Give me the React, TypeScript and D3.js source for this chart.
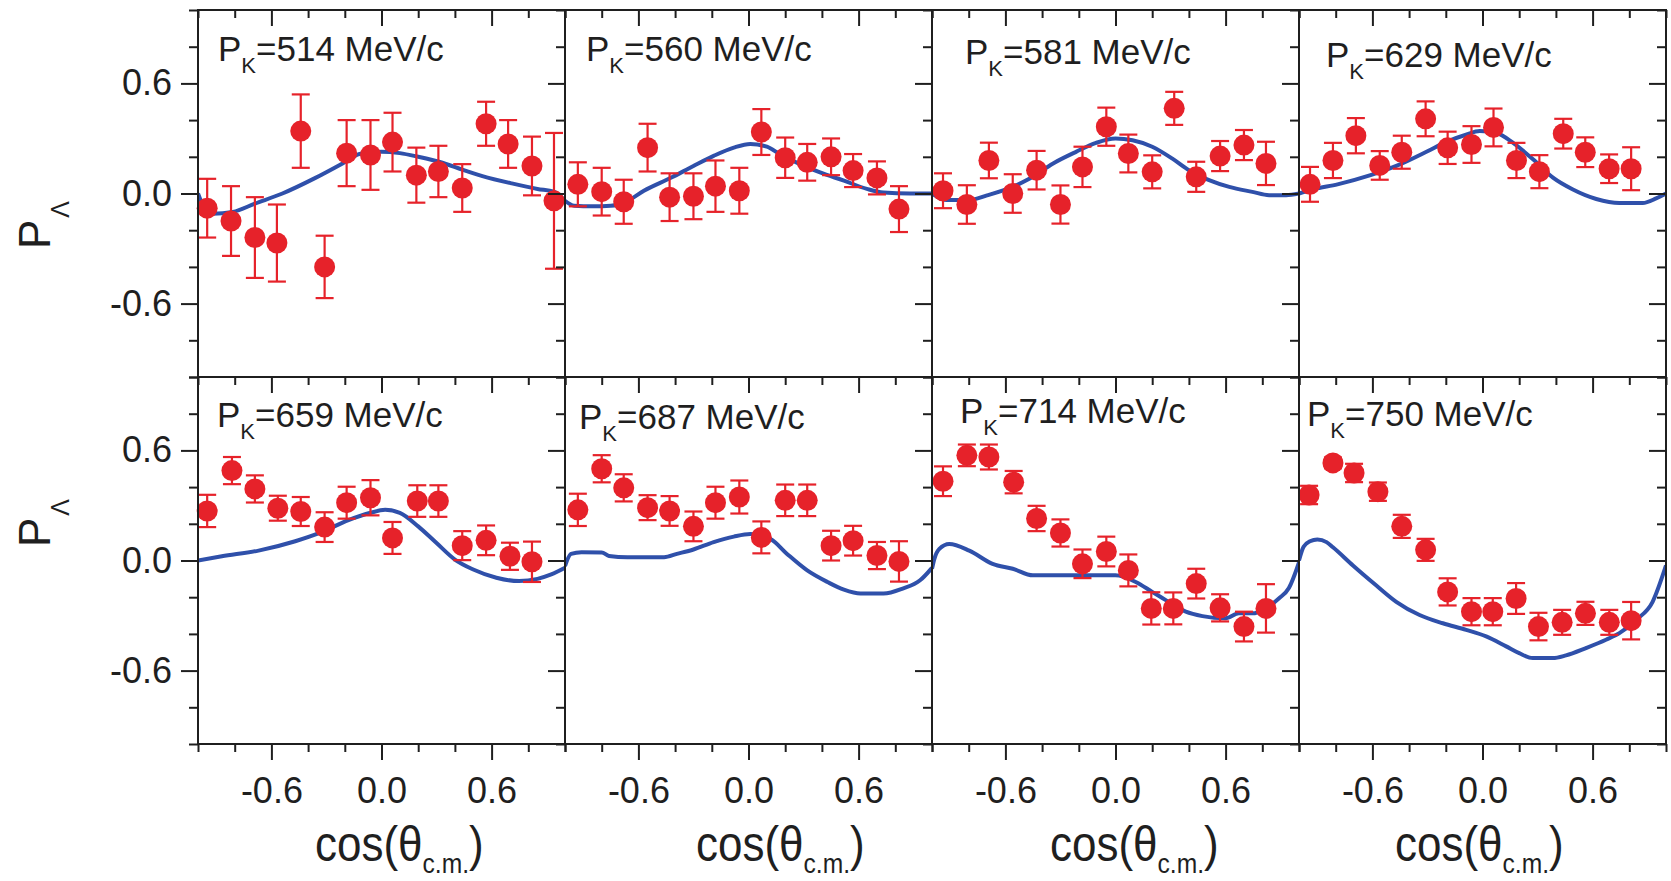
import React, { useEffect, useRef } from 'react';
import * as d3 from 'd3';

// kaon beam momenta (MeV/c), one panel each
const momenta = [514, 560, 581, 629, 659, 687, 714, 750];

// axis ticks
const majorTicks = [-0.6, 0, 0.6];
const minorTicks = [-1, -0.8, -0.4, -0.2, 0.2, 0.4, 0.8, 1];

// measured points: [cos(theta_cm), P_Lambda, error]
const data514 = [
  [-0.95, -0.08, 0.16], [-0.82, -0.15, 0.19], [-0.69, -0.24, 0.22], [-0.57, -0.27, 0.21],
  [-0.44, 0.34, 0.2], [-0.31, -0.4, 0.17], [-0.19, 0.22, 0.18], [-0.06, 0.21, 0.19],
  [0.06, 0.28, 0.16], [0.19, 0.1, 0.15], [0.31, 0.12, 0.14], [0.44, 0.03, 0.13],
  [0.57, 0.38, 0.12], [0.69, 0.27, 0.13], [0.82, 0.15, 0.16], [0.94, -0.04, 0.37],
];
const data560 = [
  [-0.93, 0.05, 0.12], [-0.8, 0.01, 0.13], [-0.68, -0.045, 0.12], [-0.55, 0.25, 0.13],
  [-0.43, -0.02, 0.13], [-0.3, -0.015, 0.125], [-0.18, 0.04, 0.14], [-0.05, 0.015, 0.125],
  [0.07, 0.335, 0.125], [0.2, 0.195, 0.11], [0.32, 0.17, 0.1], [0.45, 0.2, 0.1],
  [0.57, 0.125, 0.09], [0.7, 0.085, 0.09], [0.82, -0.085, 0.125],
];
const data581 = [
  [-0.94, 0.015, 0.095], [-0.81, -0.06, 0.105], [-0.69, 0.18, 0.097], [-0.56, 0.0, 0.105],
  [-0.43, 0.127, 0.105], [-0.3, -0.06, 0.104], [-0.18, 0.145, 0.11], [-0.05, 0.364, 0.104],
  [0.07, 0.218, 0.103], [0.2, 0.118, 0.09], [0.32, 0.464, 0.09], [0.44, 0.091, 0.082],
  [0.57, 0.204, 0.082], [0.7, 0.264, 0.082], [0.82, 0.164, 0.118],
];
const data629 = [
  [-0.94, 0.05, 0.095], [-0.815, 0.18, 0.096], [-0.69, 0.315, 0.096], [-0.56, 0.153, 0.078],
  [-0.44, 0.225, 0.09], [-0.31, 0.407, 0.095], [-0.19, 0.249, 0.088], [-0.06, 0.267, 0.1],
  [0.06, 0.36, 0.103], [0.185, 0.18, 0.096], [0.31, 0.119, 0.09], [0.44, 0.326, 0.081],
  [0.56, 0.225, 0.081], [0.69, 0.135, 0.078], [0.81, 0.135, 0.117],
];
const data659 = [
  [-0.95, 0.27, 0.088], [-0.815, 0.49, 0.074], [-0.69, 0.39, 0.074], [-0.565, 0.285, 0.068],
  [-0.44, 0.267, 0.079], [-0.31, 0.182, 0.081], [-0.19, 0.315, 0.087], [-0.06, 0.342, 0.096],
  [0.06, 0.123, 0.087], [0.195, 0.324, 0.086], [0.31, 0.324, 0.086], [0.44, 0.081, 0.079],
  [0.57, 0.11, 0.081], [0.7, 0.023, 0.074], [0.82, -0.007, 0.11],
];
const data687 = [
  [-0.93, 0.276, 0.088], [-0.8, 0.5, 0.074], [-0.68, 0.396, 0.074], [-0.55, 0.288, 0.068],
  [-0.43, 0.27, 0.081], [-0.3, 0.186, 0.081], [-0.18, 0.315, 0.087], [-0.05, 0.346, 0.09],
  [0.07, 0.126, 0.087], [0.2, 0.328, 0.086], [0.32, 0.328, 0.086], [0.45, 0.081, 0.081],
  [0.57, 0.108, 0.081], [0.7, 0.027, 0.074], [0.82, -0.005, 0.11],
];
const data714 = [
  [-0.94, 0.432, 0.081], [-0.81, 0.573, 0.059], [-0.69, 0.564, 0.068], [-0.555, 0.427, 0.061],
  [-0.43, 0.229, 0.069], [-0.3, 0.15, 0.074], [-0.18, -0.018, 0.078], [-0.05, 0.049, 0.081],
  [0.07, -0.054, 0.087], [0.195, -0.261, 0.088], [0.315, -0.261, 0.087], [0.44, -0.126, 0.081],
  [0.57, -0.258, 0.074], [0.7, -0.36, 0.081], [0.82, -0.261, 0.132],
];
const data750 = [
  [-0.945, 0.357, 0.05], [-0.815, 0.532, 0.03], [-0.7, 0.477, 0.05], [-0.57, 0.375, 0.05],
  [-0.44, 0.186, 0.063], [-0.31, 0.058, 0.06], [-0.19, -0.171, 0.074], [-0.06, -0.279, 0.074],
  [0.056, -0.279, 0.074], [0.183, -0.207, 0.084], [0.305, -0.36, 0.075], [0.434, -0.337, 0.068],
  [0.561, -0.288, 0.063], [0.691, -0.337, 0.068], [0.81, -0.328, 0.102],
];

// model curves: [cos(theta_cm), P_Lambda]
const theory514 = [
  [-1, 0.0], [-0.97, -0.07], [-0.92, -0.11], [-0.81, -0.1], [-0.69, -0.055], [-0.54, 0.0],
  [-0.36, 0.085], [-0.21, 0.165], [-0.12, 0.215], [0.0, 0.228], [0.1, 0.22], [0.2, 0.2],
  [0.34, 0.165], [0.44, 0.13], [0.55, 0.095], [0.71, 0.055], [0.85, 0.025], [0.94, 0.01], [1.0, -0.04],
];
const theory560 = [
  [-1, -0.04], [-0.95, -0.067], [-0.85, -0.07], [-0.75, -0.067], [-0.66, -0.04], [-0.57, 0.015],
  [-0.42, 0.087], [-0.3, 0.15], [-0.19, 0.205], [-0.08, 0.25], [0.01, 0.27], [0.1, 0.255],
  [0.17, 0.215], [0.28, 0.16], [0.39, 0.115], [0.52, 0.07], [0.645, 0.025], [0.735, 0.005],
  [0.88, 0.0], [1.0, 0.0],
];
const theory581 = [
  [-1, 0.0], [-0.92, -0.036], [-0.8, -0.036], [-0.7, -0.01], [-0.56, 0.036], [-0.47, 0.08],
  [-0.34, 0.164], [-0.215, 0.227], [-0.106, 0.276], [0.0, 0.3], [0.093, 0.29], [0.2, 0.255],
  [0.31, 0.19], [0.4, 0.127], [0.51, 0.073], [0.62, 0.036], [0.746, 0.009], [0.837, -0.009],
  [0.93, -0.009], [1.0, 0.0],
];
const theory629 = [
  [-1, 0.0], [-0.92, 0.023], [-0.79, 0.05], [-0.61, 0.1], [-0.47, 0.15], [-0.3, 0.23],
  [-0.2, 0.28], [-0.09, 0.32], [-0.015, 0.34], [0.076, 0.33], [0.167, 0.276], [0.275, 0.186],
  [0.384, 0.086], [0.49, 0.023], [0.62, -0.03], [0.746, -0.052], [0.873, -0.052], [0.946, -0.027], [1.0, 0.0],
];
const theory659 = [
  [-1, 0.0], [-0.87, 0.023], [-0.67, 0.054], [-0.47, 0.105], [-0.33, 0.153], [-0.18, 0.22],
  [-0.06, 0.26], [0.02, 0.276], [0.1, 0.26], [0.2, 0.186], [0.3, 0.095], [0.4, 0.005],
  [0.5, -0.049], [0.626, -0.094], [0.75, -0.112], [0.85, -0.1], [0.925, -0.076], [1.0, -0.04],
];
const theory687 = [
  [-1, -0.03], [-0.967, 0.036], [-0.91, 0.045], [-0.8, 0.044], [-0.76, 0.025], [-0.66, 0.018],
  [-0.46, 0.018], [-0.39, 0.036], [-0.3, 0.06], [-0.19, 0.1], [-0.08, 0.13], [0.01, 0.144],
  [0.12, 0.117], [0.21, 0.036], [0.32, -0.054], [0.43, -0.117], [0.52, -0.159], [0.61, -0.18],
  [0.736, -0.18], [0.84, -0.153], [0.935, -0.108], [1.0, -0.04],
];
const theory714 = [
  [-1, -0.045], [-0.987, 0.009], [-0.96, 0.063], [-0.906, 0.09], [-0.797, 0.054], [-0.67, -0.018],
  [-0.56, -0.045], [-0.45, -0.081], [-0.343, -0.081], [-0.16, -0.081], [0.0, -0.081], [0.11, -0.117],
  [0.2, -0.171], [0.274, -0.216], [0.383, -0.279], [0.474, -0.303], [0.6, -0.315], [0.673, -0.288],
  [0.746, -0.288], [0.818, -0.261], [0.89, -0.207], [0.945, -0.15], [1.0, -0.01],
];
const theory750 = [
  [-1, 0.0], [-0.975, 0.075], [-0.94, 0.105], [-0.9, 0.115], [-0.85, 0.1], [-0.815, 0.072],
  [-0.706, -0.027], [-0.58, -0.135], [-0.47, -0.225], [-0.343, -0.297], [-0.216, -0.342],
  [-0.089, -0.378], [0.02, -0.414], [0.129, -0.468], [0.2, -0.505], [0.274, -0.532], [0.383, -0.532],
  [0.455, -0.517], [0.564, -0.477], [0.673, -0.432], [0.746, -0.396], [0.837, -0.324], [0.927, -0.225],
  [1.0, -0.027],
];

const pointSets = [data514, data560, data581, data629, data659, data687, data714, data750];
const curveSets = [theory514, theory560, theory581, theory629, theory659, theory687, theory714, theory750];

// label placement inside each panel (dx from left frame, baseline from top frame)
const labelPos = [[20, 51], [21, 51], [33, 54], [27, 57], [19, 50], [14, 52], [28, 46], [8, 49]];
const titleDx = [117, 131, 118, 96];

const App = () => {
  const chartRef = useRef<SVGSVGElement>(null);

  useEffect(() => {
    if (!chartRef.current) return;
    const width = 1671;
    const height = 881;
    const marginLeft = 198;
    const marginTop = 10;
    const pw = 367;
    const ph = 367;
    const ink = '#1f1f1f';
    const red = '#e6222a';
    const blue = '#2f50aa';
    const font = "'Liberation Sans', Arial, Helvetica, sans-serif";
    const fmt = (d: any) => (+d).toFixed(1); // plain hyphen minus, like Origin

    const svg = d3.select(chartRef.current);
    svg.selectAll('*').remove();
    svg.append('rect').attr('width', width).attr('height', height).attr('fill', '#fff');

    const styleAxis = (g: any) => {
      g.select('.domain').remove();
      g.selectAll('line').attr('stroke', ink).attr('stroke-width', 2);
      g.selectAll('text').attr('fill', ink).style('font-family', font).style('font-size', '36px');
    };

    momenta.forEach((pk, i) => {
      const col = i % 4;
      const row = Math.floor(i / 4);
      const x0 = marginLeft + col * pw;
      const y0 = marginTop + row * ph;
      const x = d3.scaleLinear().domain([-1, 1]).range([x0, x0 + pw]);
      const y = d3.scaleLinear().domain([-1, 1]).range([y0 + ph, y0]);
      const g = svg.append('g');

      const clipId = `panel-clip-${i}`;
      g.append('clipPath').attr('id', clipId)
        .append('rect').attr('x', x0).attr('y', y0).attr('width', pw).attr('height', ph);

      const line = d3.line<number[]>()
        .x(d => x(d[0]))
        .y(d => y(d[1]))
        .curve(d3.curveMonotoneX);

      g.append('path')
        .datum(curveSets[i])
        .attr('d', line)
        .attr('fill', 'none')
        .attr('stroke', blue)
        .attr('stroke-width', 4)
        .attr('clip-path', `url(#${clipId})`);

      const pts = pointSets[i];
      const bars = g.append('g').attr('stroke', red).attr('stroke-width', 2.2);
      bars.selectAll('line.v').data(pts).join('line').attr('class', 'v')
        .attr('x1', d => x(d[0])).attr('x2', d => x(d[0]))
        .attr('y1', d => y(d[1] - d[2])).attr('y2', d => y(d[1] + d[2]));
      bars.selectAll('line.t').data(pts).join('line').attr('class', 't')
        .attr('x1', d => x(d[0]) - 9).attr('x2', d => x(d[0]) + 9)
        .attr('y1', d => y(d[1] + d[2])).attr('y2', d => y(d[1] + d[2]));
      bars.selectAll('line.b').data(pts).join('line').attr('class', 'b')
        .attr('x1', d => x(d[0]) - 9).attr('x2', d => x(d[0]) + 9)
        .attr('y1', d => y(d[1] - d[2])).attr('y2', d => y(d[1] - d[2]));

      g.append('g').selectAll('circle').data(pts).join('circle')
        .attr('cx', d => x(d[0]))
        .attr('cy', d => y(d[1]))
        .attr('r', 10.5)
        .attr('fill', red);

      g.append('rect')
        .attr('x', x0).attr('y', y0).attr('width', pw).attr('height', ph)
        .attr('fill', 'none').attr('stroke', ink).attr('stroke-width', 2);

      // vertical-edge ticks all point left
      const leftEdges = col === 3 ? [x0, x0 + pw] : [x0];
      leftEdges.forEach(ex => {
        g.append('g').attr('transform', `translate(${ex},0)`)
          .call(d3.axisLeft(y).tickValues(minorTicks).tickSize(9).tickFormat(() => ''))
          .call(styleAxis);
        g.append('g').attr('transform', `translate(${ex},0)`)
          .call(d3.axisLeft(y).tickValues(majorTicks).tickSize(17).tickPadding(9)
            .tickFormat(d => (col === 0 && ex === x0 ? fmt(d) : '')))
          .call(styleAxis);
      });

      // horizontal-edge ticks all point down
      const downEdges = row === 1 ? [y0, y0 + ph] : [y0];
      downEdges.forEach(ey => {
        g.append('g').attr('transform', `translate(0,${ey})`)
          .call(d3.axisBottom(x).tickValues(minorTicks).tickSize(8).tickFormat(() => ''))
          .call(styleAxis);
        g.append('g').attr('transform', `translate(0,${ey})`)
          .call(d3.axisBottom(x).tickValues(majorTicks).tickSize(16).tickPadding(17)
            .tickFormat(d => (ey === y0 + ph ? fmt(d) : '')))
          .call(styleAxis);
      });

      const label = g.append('text')
        .attr('x', x0 + labelPos[i][0])
        .attr('y', y0 + labelPos[i][1])
        .attr('fill', ink)
        .style('font-family', font)
        .style('font-size', '35px');
      label.append('tspan').text('P');
      label.append('tspan').attr('dy', 12).style('font-size', '22px').text('K');
      label.append('tspan').attr('dy', -12).text(`=${pk} MeV/c`);

      if (row === 1) {
        // Origin title font is tall and narrow
        const title = g.append('text')
          .attr('transform', `translate(${x0 + titleDx[col]},861) scale(0.88,1)`)
          .attr('fill', ink)
          .style('font-family', font)
          .style('font-size', '50px');
        title.append('tspan').text('cos(θ');
        title.append('tspan').attr('dy', 12).style('font-size', '28px').text('c.m.');
        title.append('tspan').attr('dy', -12).text(')');
      }
    });

    // y titles, one per row
    [249, 547].forEach(ys => {
      const t = svg.append('text')
        .attr('transform', `translate(50,${ys}) rotate(-90)`)
        .attr('fill', ink)
        .style('font-family', font)
        .style('font-size', '44px');
      t.append('tspan').text('P');
      t.append('tspan').attr('dy', 19).attr('dx', 2).style('font-size', '25px').text('Λ');
    });
  }, []);

  return (
    <svg
      ref={chartRef}
      width={1671}
      height={881}
      style={{ position: 'absolute', left: 0, top: 0 }}
    />
  );
};

export default App;
